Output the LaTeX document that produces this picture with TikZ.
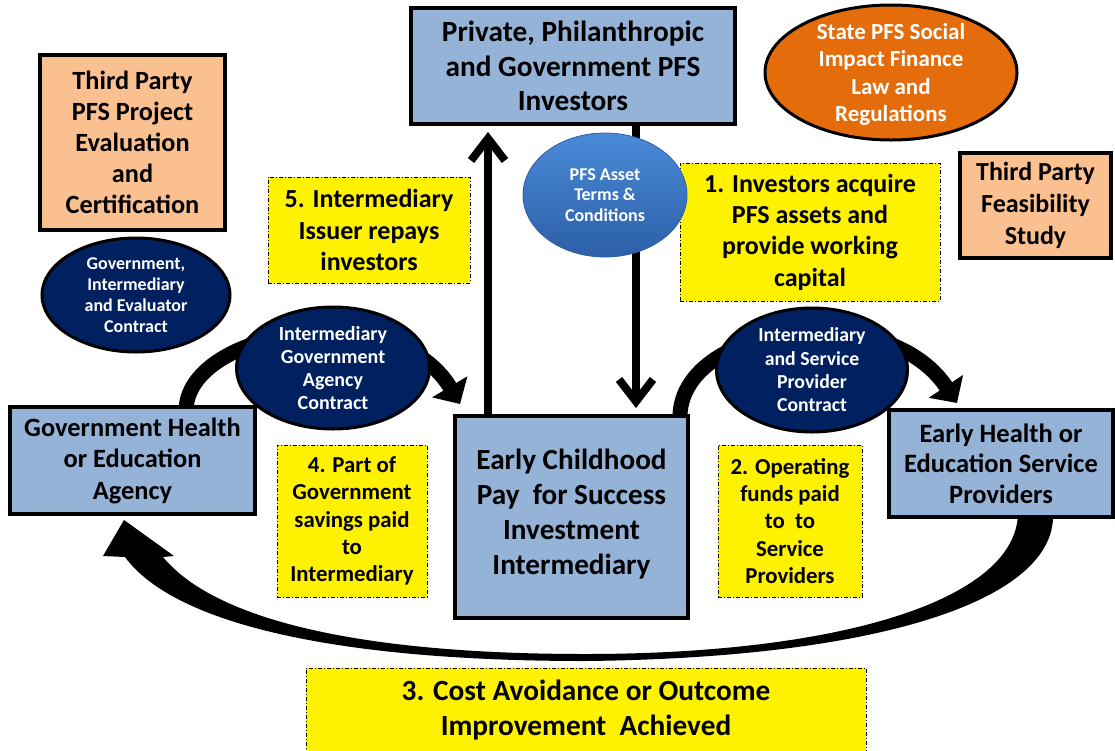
\documentclass[tikz,border=0pt]{standalone}
\usepackage{fontspec}
\setmainfont{Carlito}
\usetikzlibrary{arrows.meta,shapes.geometric,calc,backgrounds}
\definecolor{boxblue}{HTML}{95B3D7}
\definecolor{peach}{HTML}{FAC090}
\definecolor{navy}{HTML}{002060}
\definecolor{orng}{HTML}{E46C0A}
\definecolor{assettop}{HTML}{4A8AD8}
\definecolor{assetbot}{HTML}{2C5FA6}
\newcommand\fsz[2]{\fontsize{#1}{#2}\selectfont\bfseries}
\tikzset{
  mainbox/.style={draw=black, line width=4pt, fill=boxblue, align=center, inner sep=0pt},
  peachbox/.style={mainbox, fill=peach},
  note/.style={draw=black, line width=0.9pt, dash pattern=on 4pt off 2pt on 1pt off 2pt,
    fill=yellow, align=center, inner sep=0pt},
  navyell/.style={ellipse, draw=black, line width=3pt, fill=navy, inner sep=0pt},
  elltext/.style={text=white, align=center, inner sep=0pt},
  boxtext/.style={align=center, inner sep=0pt},
  bigarc/.style={line width=15pt, -{Triangle[length=20pt,width=40pt]}},
  vertarrow/.style={line width=8pt, -{Straight Barb[length=22pt,width=34pt]}},
}
\begin{document}
\begin{tikzpicture}[x=1pt,y=-1pt]
\useasboundingbox (0,0) rectangle (1115,750);
% boxes
\node[mainbox, minimum width=324pt, minimum height=116pt, font=\fsz{29.3}{34.5}] (inv) at (573,66)
  {Private, Philanthropic\\and Government PFS\\Investors};
\node[peachbox, minimum width=185pt, minimum height=175pt, font=\fsz{26.3}{31}] (eval) at (132.5,142.5)
  {Third Party\\PFS Project\\Evaluation\\and\\Certification};
\node[peachbox, minimum width=151pt, minimum height=105pt, font=\fsz{26}{32}] (feas) at (1035.5,205.5)
  {Third Party\\Feasibility\\Study};
\node[mainbox, minimum width=245pt, minimum height=107pt, font=\fsz{26.4}{31.5}] (gov) at (132.5,460.5)
  {Government Health\\or Education\\Agency};
\node[mainbox, minimum width=233pt, minimum height=202pt] (ech) at (571.5,517) {};
\node[boxtext, font=\fsz{29.2}{35}] at ($(ech)+(0,-3)$)
  {Early Childhood\\Pay~ for Success\\Investment\\Intermediary};
\node[mainbox, minimum width=224pt, minimum height=107pt, font=\fsz{26.5}{30.5}] (ehp) at (1001,463.5)
  {Early Health or\\Education Service\\Providers};
% notes
\node[note, minimum width=202pt, minimum height=106pt, font=\fsz{26}{31.5}] (n5) at (369,230)
  {5. Intermediary\\Issuer repays\\investors};
\node[note, minimum width=260pt, minimum height=138pt, font=\fsz{26}{31.3}] (n1) at (810,232)
  {1. Investors acquire\\PFS assets and\\provide working\\capital};
\node[note, minimum width=150pt, minimum height=152pt, font=\fsz{22.8}{27.3}] (n4) at (352,521)
  {4. Part of\\Government\\savings paid\\to\\Intermediary};
\node[note, minimum width=144pt, minimum height=152pt, font=\fsz{22.8}{27.3}] (n2) at (790,521)
  {2. Operating\\funds paid\\to~ to\\Service\\Providers};
\node[note, minimum width=560pt, minimum height=84pt, font=\fsz{29.3}{35}] (n3) at (586,710)
  {3. Cost Avoidance or Outcome\\Improvement~ Achieved};
% ellipses
\node[ellipse, draw=black, line width=3pt, fill=orng, minimum width=252pt, minimum height=135pt] (law) at (891,72.5) {};
\node[elltext, font=\fsz{23}{27.3}] at ($(law)+(0,2)$) {State PFS Social\\Impact Finance\\Law and\\Regulations};
\node[ellipse, draw=assetbot, line width=0.8pt, top color=assettop, bottom color=assetbot, minimum width=164pt, minimum height=124pt] (asset) at (605,195) {};
\node[elltext, font=\fsz{18}{20.5}] at (asset) {PFS Asset\\Terms \&\\Conditions};
\node[navyell, minimum width=188pt, minimum height=114pt] (gie) at (136,295) {};
\node[elltext, font=\fsz{18}{21}] at (gie) {Government,\\Intermediary\\and Evaluator\\Contract};
\node[navyell, minimum width=193pt, minimum height=122pt] (iga) at (333,368) {};
\node[elltext, font=\fsz{20}{23.3}] at (iga) {Intermediary\\Government\\Agency\\Contract};
\node[navyell, minimum width=191pt, minimum height=124pt] (isp) at (812,370) {};
\node[elltext, font=\fsz{19.8}{23.3}] at (isp) {Intermediary\\and Service\\Provider\\Contract};
% connectors
\begin{pgfonlayer}{background}
\draw[bigarc] ($(gov.north west)+(178,6)$) .. controls (186,330) and (395,295) .. ($(ech.north west)+(7,-10)$);
\draw[bigarc] ($(ech.north east)+(-10,6)$) .. controls (676,325) and (885,295) .. ($(ehp.north west)+(70,-5)$);
\draw[vertarrow] ($(ech.north west)+(35,0)$) -- ($(inv.south west)+(79,6)$);
\draw[vertarrow] ($(inv.south west)+(227,0)$) -- ($(ech.north west)+(183,-6)$);
\fill[black] (1053,512) .. controls (1058,600) and (880,658) .. (585,661)
  .. controls (340,661) and (175,625) .. (125,557) -- (103,556) -- (124,520) -- (174,556) -- (163,557)
  .. controls (215,620) and (360,654) .. (585,654)
  .. controls (840,654) and (1018,600) .. (1018,512) -- cycle;
\end{pgfonlayer}
\end{tikzpicture}
\end{document}
